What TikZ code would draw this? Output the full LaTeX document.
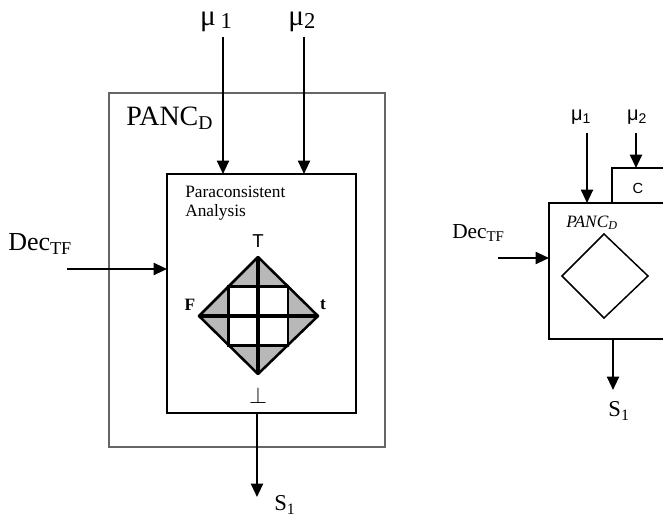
\documentclass[tikz,border=0pt]{standalone}
\usepackage{fontspec}
\setmainfont{Liberation Serif}
\newfontfamily\arialf{Liberation Sans}
\usetikzlibrary{arrows.meta}
\tikzset{
  arr/.style={line width=1.5pt,-{Triangle[length=10pt,width=9pt]}},
  boxline/.style={line width=0.8pt,draw=black},
  grayline/.style={line width=0.9pt,draw=black!60},
  thickl/.style={line width=1.9pt},
  lbl/.style={inner sep=0pt,anchor=center},
}
\begin{document}
\begin{tikzpicture}[x=0.75pt,y=-0.75pt]
\clip (0,0) rectangle (663,516);
\fill[white] (0,0) rectangle (663,516);
% ---------- left diagram ----------
\draw[grayline] (109,93) rectangle (385,447);
\draw[boxline] (167,174) rectangle (356,413);
\coordinate (innerTop1) at (223,174);
\coordinate (innerTop2) at (304,174);
\coordinate (innerLeft) at (167,269);
\coordinate (innerBot) at (257,413);
\node[lbl,font=\fontsize{21}{21}\selectfont,anchor=west] (panc) at (126,118) {PANC\textsubscript{D}};
\node[lbl,font=\fontsize{22}{22}\selectfont] (mu1) at (216,22) {μ\,\raisebox{-0.1em}{\fontsize{17}{17}\selectfont 1}};
\node[lbl,font=\fontsize{22}{22}\selectfont] (mu2) at (302,22) {μ\raisebox{-0.1em}{\fontsize{17}{17}\selectfont 2}};
\coordinate (mu1s) at (223,37);
\coordinate (mu2s) at (304,37);
\draw[arr] (mu1s) -- (innerTop1);
\draw[arr] (mu2s) -- (innerTop2);
\node[lbl,font=\fontsize{19.5}{20}\selectfont,anchor=west] (dec) at (8,244) {Dec\textsubscript{TF}};
\coordinate (decs) at (67,269);
\draw[arr] (decs) -- (innerLeft);
\node[lbl,font=\fontsize{13}{15}\selectfont,anchor=north west,align=left] (pa) at (185,186) {Paraconsistent\\[-1pt]Analysis};
% diamond
\coordinate (dT) at (258,257);
\coordinate (dB) at (258,374);
\coordinate (dL) at (199,316);
\coordinate (dR) at (318,316);
\fill[black!28] (dT) -- (dR) -- (dB) -- (dL) -- cycle;
\fill[white] (228.5,286.5) rectangle (288,345.5);
\draw[thickl,line join=round] (dT) -- (dR) -- (dB) -- (dL) -- cycle;
\draw[thickl] (228.5,286.5) rectangle (288,345.5);
\draw[line width=2.3pt] (dT) -- (dB);
\draw[line width=2.3pt] (dL) -- (dR);
\node[lbl,font=\arialf\fontsize{14}{14}\selectfont] (tT) at (258,241) {T};
\node[lbl,font=\bfseries\fontsize{13}{13}\selectfont] (tF) at (190,305) {F};
\node[lbl,font=\bfseries\fontsize{13}{13}\selectfont] (tt) at (323,305) {t};
\node[lbl,font=\fontsize{18}{18}\selectfont] (tbot) at (258,395) {$\bot$};
\coordinate (s1e) at (257,497);
\draw[arr] (innerBot) -- (s1e);
\node[lbl,font=\fontsize{17}{17}\selectfont,anchor=west] (s1) at (274,505) {S\textsubscript{1}};
% ---------- right diagram ----------
\draw[boxline] (670,203) -- (549,203) -- (549,339) -- (670,339);
\draw[boxline] (670,168) -- (612,168) -- (612,203);
\node[lbl,font=\arialf\fontsize{11}{11}\selectfont] (cC) at (638,188) {C};
\coordinate (rTop1) at (587,203);
\coordinate (rTop2) at (636,168);
\coordinate (rLeft) at (549,258);
\coordinate (rBot) at (613,339);
\node[lbl,font=\arialf\fontsize{15}{15}\selectfont] (rmu1) at (581,117) {μ\textsubscript{1}};
\node[lbl,font=\arialf\fontsize{15}{15}\selectfont] (rmu2) at (637,117) {μ\textsubscript{2}};
\coordinate (rmu1s) at (587,133);
\coordinate (rmu2s) at (636,133);
\draw[arr] (rmu1s) -- (rTop1);
\draw[arr] (rmu2s) -- (rTop2);
\node[lbl,font=\itshape\fontsize{13}{13}\selectfont,anchor=west] (rpanc) at (566,223) {PANC\textsubscript{\itshape D}};
\draw[line width=1.1pt] (604,234) -- (648,276) -- (604,318) -- (562,276) -- cycle;
\node[lbl,font=\fontsize{16}{16}\selectfont,anchor=west] (rdec) at (452,233) {Dec\textsubscript{TF}};
\coordinate (rdecs) at (498,258);
\draw[arr] (rdecs) -- (rLeft);
\coordinate (rs1e) at (613,390);
\draw[arr] (rBot) -- (rs1e);
\node[lbl,font=\fontsize{17}{17}\selectfont] (rs1) at (619,411) {S\textsubscript{1}};
\end{tikzpicture}
\end{document}
